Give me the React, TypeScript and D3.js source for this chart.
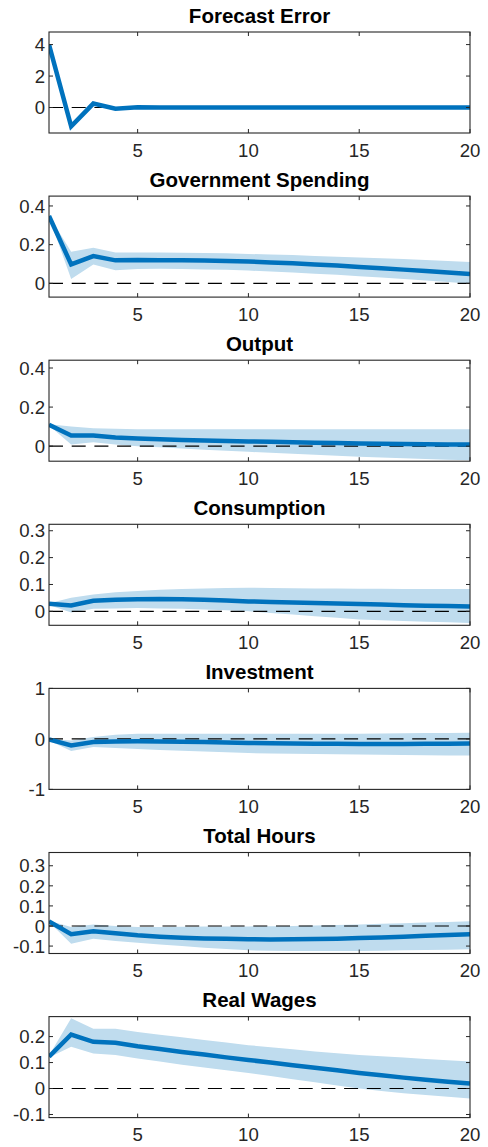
import { useEffect, useRef } from 'react'
import * as d3 from 'd3'

const periods = [1, 2, 3, 4, 5, 6, 7, 8, 9, 10, 11, 12, 13, 14, 15, 16, 17, 18, 19, 20]
const xTicks = [5, 10, 15, 20]

const titles = [
  'Forecast Error',
  'Government Spending',
  'Output',
  'Consumption',
  'Investment',
  'Total Hours',
  'Real Wages',
]

const yLimits = [
  [-1.62, 4.8],
  [-0.071, 0.451],
  [-0.077, 0.44],
  [-0.052, 0.324],
  [-1, 1],
  [-0.137, 0.366],
  [-0.112, 0.277],
]

const yTicks = [
  [0, 2, 4],
  [0, 0.2, 0.4],
  [0, 0.2, 0.4],
  [0, 0.1, 0.2, 0.3],
  [-1, 0, 1],
  [-0.1, 0, 0.1, 0.2, 0.3],
  [-0.1, 0, 0.1, 0.2],
]

// median responses
const fevMid = [4.0, -1.2, 0.25, -0.08, 0.01, 0.0, 0.0, 0.0, 0.0, 0.0, 0.0, 0.0, 0.0, 0.0, 0.0, 0.0, 0.0, 0.0, 0.0, 0.0]
const govMid = [0.348, 0.098, 0.141, 0.119, 0.121, 0.12, 0.119, 0.118, 0.116, 0.113, 0.108, 0.104, 0.098, 0.092, 0.085, 0.078, 0.071, 0.064, 0.056, 0.048]
const outMid = [0.109, 0.055, 0.055, 0.044, 0.039, 0.035, 0.032, 0.029, 0.027, 0.024, 0.022, 0.02, 0.018, 0.016, 0.014, 0.012, 0.011, 0.01, 0.009, 0.008]
const conMid = [0.028, 0.022, 0.039, 0.043, 0.045, 0.046, 0.045, 0.043, 0.04, 0.037, 0.035, 0.033, 0.031, 0.029, 0.027, 0.025, 0.023, 0.021, 0.02, 0.018]
const invMid = [-0.01, -0.13, -0.06, -0.05, -0.046, -0.05, -0.055, -0.062, -0.07, -0.08, -0.085, -0.09, -0.095, -0.098, -0.1, -0.1, -0.1, -0.097, -0.094, -0.09]
const hrsMid = [0.023, -0.041, -0.026, -0.036, -0.046, -0.053, -0.058, -0.062, -0.064, -0.066, -0.067, -0.066, -0.065, -0.063, -0.06, -0.057, -0.053, -0.049, -0.045, -0.041]
const wagMid = [0.123, 0.208, 0.18, 0.176, 0.163, 0.152, 0.141, 0.131, 0.12, 0.11, 0.1, 0.09, 0.08, 0.07, 0.06, 0.051, 0.042, 0.034, 0.026, 0.019]

// lower band
const fevLo = [3.98, -1.35, 0.15, -0.12, -0.02, -0.02, -0.02, -0.02, -0.02, -0.02, -0.02, -0.02, -0.02, -0.02, -0.02, -0.02, -0.02, -0.02, -0.02, -0.02]
const govLo = [0.346, 0.022, 0.098, 0.068, 0.074, 0.075, 0.074, 0.072, 0.07, 0.066, 0.061, 0.056, 0.05, 0.044, 0.037, 0.03, 0.022, 0.015, 0.007, -0.002]
const outLo = [0.106, 0.008, 0.02, 0.008, 0.0, -0.006, -0.012, -0.018, -0.024, -0.029, -0.034, -0.039, -0.044, -0.049, -0.054, -0.058, -0.062, -0.066, -0.069, -0.072]
const conLo = [0.024, -0.004, 0.01, 0.011, 0.012, 0.011, 0.01, 0.007, 0.004, 0.0, -0.006, -0.012, -0.018, -0.024, -0.03, -0.033, -0.036, -0.039, -0.041, -0.043]
const invLo = [-0.03, -0.24, -0.16, -0.18, -0.2, -0.22, -0.235, -0.25, -0.265, -0.28, -0.288, -0.295, -0.3, -0.305, -0.31, -0.315, -0.32, -0.324, -0.327, -0.33]
const hrsLo = [0.02, -0.088, -0.063, -0.075, -0.083, -0.092, -0.1, -0.108, -0.115, -0.121, -0.123, -0.124, -0.124, -0.124, -0.124, -0.123, -0.121, -0.12, -0.118, -0.116]
const wagLo = [0.119, 0.161, 0.135, 0.129, 0.116, 0.104, 0.092, 0.081, 0.07, 0.06, 0.048, 0.036, 0.024, 0.012, 0.0, -0.01, -0.018, -0.025, -0.032, -0.038]

// upper band
const fevHi = [4.02, -1.05, 0.38, -0.03, 0.03, 0.02, 0.02, 0.02, 0.02, 0.02, 0.02, 0.02, 0.02, 0.02, 0.02, 0.02, 0.02, 0.02, 0.02, 0.02]
const govHi = [0.35, 0.164, 0.184, 0.159, 0.16, 0.159, 0.158, 0.157, 0.155, 0.152, 0.149, 0.146, 0.142, 0.138, 0.134, 0.13, 0.126, 0.121, 0.116, 0.111]
const outHi = [0.112, 0.1, 0.092, 0.089, 0.087, 0.086, 0.086, 0.086, 0.086, 0.086, 0.086, 0.086, 0.086, 0.086, 0.086, 0.086, 0.086, 0.086, 0.086, 0.086]
const conHi = [0.03, 0.051, 0.063, 0.071, 0.076, 0.08, 0.083, 0.085, 0.087, 0.088, 0.087, 0.086, 0.085, 0.085, 0.084, 0.084, 0.083, 0.083, 0.083, 0.083]
const invHi = [0.0, -0.03, 0.04, 0.08, 0.1, 0.1, 0.1, 0.1, 0.1, 0.1, 0.1, 0.1, 0.1, 0.1, 0.1, 0.105, 0.11, 0.115, 0.118, 0.12]
const hrsHi = [0.026, -0.005, 0.007, 0.0, -0.005, -0.005, -0.004, -0.003, -0.002, -0.002, -0.001, 0.0, 0.002, 0.005, 0.008, 0.011, 0.014, 0.017, 0.02, 0.023]
const wagHi = [0.127, 0.271, 0.23, 0.23, 0.218, 0.207, 0.197, 0.187, 0.177, 0.167, 0.159, 0.151, 0.143, 0.136, 0.129, 0.124, 0.119, 0.114, 0.109, 0.104]

const mids = [fevMid, govMid, outMid, conMid, invMid, hrsMid, wagMid]
const lows = [fevLo, govLo, outLo, conLo, invLo, hrsLo, wagLo]
const highs = [fevHi, govHi, outHi, conHi, invHi, hrsHi, wagHi]

export default function App() {
  const svgRef = useRef<SVGSVGElement>(null)

  useEffect(() => {
    if (!svgRef.current) return
    const svg = d3.select(svgRef.current)
    svg.selectAll('*').remove()

    const W = 488
    const H = 1147
    svg.attr('width', W).attr('height', H)

    const left = 49
    const right = 470
    const firstTop = 32
    const step = 164.1
    const plotH = 101
    const axisColor = '#262626'
    const font = '"Liberation Sans", Arial, Helvetica, sans-serif'

    const x = d3.scaleLinear().domain([1, 20]).range([left, right])

    titles.forEach((title, i) => {
      const top = firstTop + i * step
      const bottom = top + plotH
      const y = d3.scaleLinear().domain(yLimits[i]).range([bottom, top])
      const g = svg.append('g')

      const clipId = `clip${i}`
      g.append('clipPath').attr('id', clipId)
        .append('rect')
        .attr('x', left).attr('y', top)
        .attr('width', right - left).attr('height', plotH)

      const rows = periods.map((p, k) => ({ p, lo: lows[i][k], hi: highs[i][k], m: mids[i][k] }))

      const area = d3.area<any>()
        .x((d) => x(d.p))
        .y0((d) => y(d.lo))
        .y1((d) => y(d.hi))
      const line = d3.line<any>()
        .x((d) => x(d.p))
        .y((d) => y(d.m))

      const plot = g.append('g').attr('clip-path', `url(#${clipId})`)
      plot.append('path')
        .datum(rows)
        .attr('d', area)
        .attr('fill', '#BFDCEE')

      // zero line
      plot.append('line')
        .attr('x1', left).attr('x2', right)
        .attr('y1', y(0)).attr('y2', y(0))
        .attr('stroke', '#000').attr('stroke-width', 1.2)
        .attr('stroke-dasharray', '14,8.7')

      plot.append('path')
        .datum(rows)
        .attr('d', line)
        .attr('fill', 'none')
        .attr('stroke', '#0072BD')
        .attr('stroke-width', 4.5)
        .attr('stroke-linejoin', 'miter')

      // box
      g.append('rect')
        .attr('x', left).attr('y', top)
        .attr('width', right - left).attr('height', plotH)
        .attr('fill', 'none')
        .attr('stroke', axisColor).attr('stroke-width', 1.1)

      const tickLen = 4
      // x ticks (bottom and top, inward)
      xTicks.forEach((t) => {
        g.append('line')
          .attr('x1', x(t)).attr('x2', x(t))
          .attr('y1', bottom).attr('y2', bottom - tickLen)
          .attr('stroke', axisColor).attr('stroke-width', 1)
        g.append('line')
          .attr('x1', x(t)).attr('x2', x(t))
          .attr('y1', top).attr('y2', top + tickLen)
          .attr('stroke', axisColor).attr('stroke-width', 1)
        g.append('text')
          .attr('x', x(t)).attr('y', bottom + 23.5)
          .attr('text-anchor', 'middle')
          .attr('font-family', font).attr('font-size', 18.6)
          .attr('fill', axisColor)
          .text(String(t))
      })

      // y ticks (left and right, inward)
      yTicks[i].forEach((t) => {
        g.append('line')
          .attr('x1', left).attr('x2', left + tickLen)
          .attr('y1', y(t)).attr('y2', y(t))
          .attr('stroke', axisColor).attr('stroke-width', 1)
        g.append('line')
          .attr('x1', right).attr('x2', right - tickLen)
          .attr('y1', y(t)).attr('y2', y(t))
          .attr('stroke', axisColor).attr('stroke-width', 1)
        g.append('text')
          .attr('x', left - 4).attr('y', y(t))
          .attr('dy', '0.36em')
          .attr('text-anchor', 'end')
          .attr('font-family', font).attr('font-size', 18.6)
          .attr('fill', axisColor)
          .text(String(t))
      })

      g.append('text')
        .attr('x', (left + right) / 2).attr('y', top - 9.5)
        .attr('text-anchor', 'middle')
        .attr('font-family', font).attr('font-size', 20.5)
        .attr('font-weight', 'bold')
        .attr('fill', '#000')
        .text(title)
    })
  }, [])

  return (
    <svg
      ref={svgRef}
      style={{ position: 'absolute', left: 0, top: 0, display: 'block', background: '#fff' }}
    />
  )
}
